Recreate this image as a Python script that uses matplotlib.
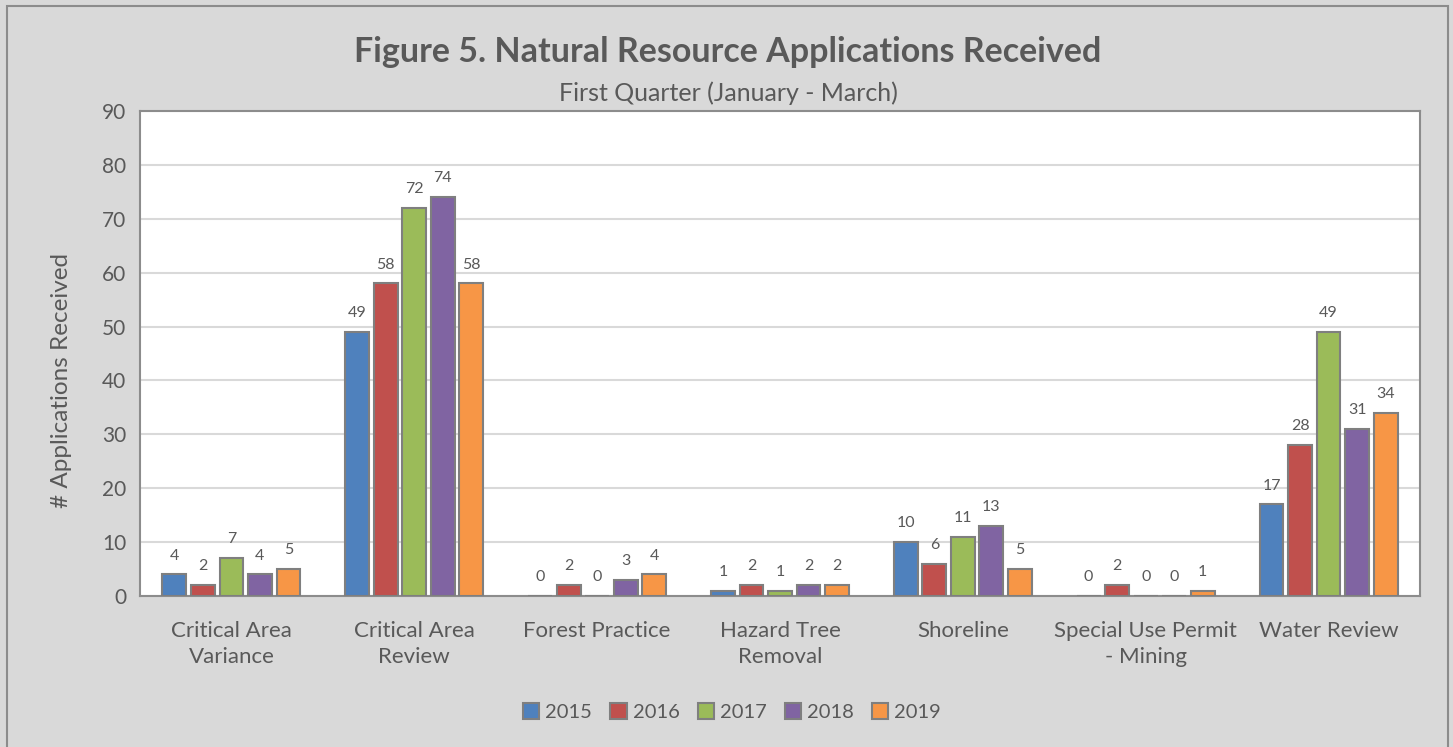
import matplotlib
matplotlib.use("Agg")
import matplotlib.pyplot as plt
import numpy as np
from matplotlib.patches import Rectangle

plt.rcParams['font.family'] = ['Lato', 'DejaVu Sans']

categories = ["Critical Area\nVariance", "Critical Area\nReview", "Forest Practice",
              "Hazard Tree\nRemoval", "Shoreline", "Special Use Permit\n- Mining", "Water Review"]
years = ["2015", "2016", "2017", "2018", "2019"]
v2015 = [4, 49, 0, 1, 10, 0, 17]
v2016 = [2, 58, 2, 2, 6, 2, 28]
v2017 = [7, 72, 0, 1, 11, 0, 49]
v2018 = [4, 74, 3, 2, 13, 0, 31]
v2019 = [5, 58, 4, 2, 5, 1, 34]
series = [v2015, v2016, v2017, v2018, v2019]
colors = ["#4F81BD", "#C0504D", "#9BBB59", "#8064A2", "#F79646"]
yticks = [0, 10, 20, 30, 40, 50, 60, 70, 80, 90]

W, H = 1453, 747
fig = plt.figure(figsize=(W/100, H/100), dpi=100)
fig.patch.set_facecolor("#d9d9d9")
fig.patches.append(Rectangle((7/W, -0.01), (1448-7)/W, 1 - 6/H + 0.01, transform=fig.transFigure,
                             fill=False, edgecolor="#8c8c8c", linewidth=1.5))

ax = fig.add_axes([140/W, 1-596/H, (1420-140)/W, (596-111)/H])
ax.set_facecolor("white")
x = np.arange(len(categories))
step = 0.156
width = 0.13
textc = "#595959"
for i, (vals, c, yr) in enumerate(zip(series, colors, years)):
    pos = x + (i - 2) * step
    ax.bar(pos, vals, width, color=c, edgecolor="#7f7f7f", linewidth=1.5, label=yr, zorder=3)
    for p, v in zip(pos, vals):
        ax.text(p, v + 2.2, str(v), ha="center", va="bottom", fontsize=11.5, color=textc)

ax.set_xlim(-0.5, len(categories) - 0.5)
ax.set_ylim(0, 90)
ax.set_yticks(yticks)
ax.set_yticklabels([str(t) for t in yticks], fontsize=15, color=textc)
ax.set_xticks(x)
ax.set_xticklabels(categories, fontsize=16, color=textc, linespacing=1.35)
ax.tick_params(length=0, pad=10)
ax.tick_params(axis="x", pad=18)
ax.yaxis.grid(True, color="#d9d9d9", linewidth=1.5, zorder=0)
for s in ax.spines.values():
    s.set_color("#8c8c8c")
    s.set_linewidth(1.5)
ax.set_ylabel("# Applications Received", fontsize=17.5, color=textc)
ax.yaxis.set_label_coords(-68/1280, (596-380)/485)

fig.text(728/W, 1-52/H, "Figure 5. Natural Resource Applications Received", ha="center", va="center",
         fontsize=24.5, fontweight="bold", color=textc)
fig.text(728/W, 1-93/H, "First Quarter (January - March)", ha="center", va="center",
         fontsize=18, color=textc)

leg = fig.legend(loc="center", bbox_to_anchor=(732/W, 1-712/H), ncol=5, frameon=False,
                 fontsize=14.5, handlelength=0.8, handleheight=0.8, handletextpad=0.3,
                 columnspacing=0.9, labelcolor=textc)
plt.savefig("out.png", dpi=100, facecolor=fig.get_facecolor())
